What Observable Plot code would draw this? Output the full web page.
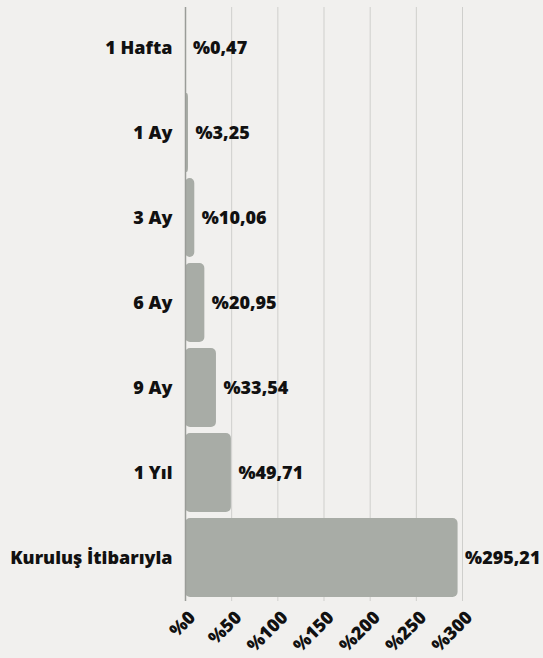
<!DOCTYPE html>
<html><head><meta charset="utf-8">
<script src="https://cdn.jsdelivr.net/npm/d3@7"></script>
<script src="https://cdn.jsdelivr.net/npm/@observablehq/plot@0.6"></script>
<style>
html,body{margin:0;padding:0;background:#f1f0ee;}
#chart{width:543px;height:658px;}
</style></head>
<body><div id="chart"></div>
<script>
const periods = ["1 Hafta","1 Ay","3 Ay","6 Ay","9 Ay","1 Yıl","Kuruluş İtibarıyla"];
const returns = [0.47,3.25,10.06,20.95,33.54,49.71,295.21];
const ticks = [0,50,100,150,200,250,300];
const data = periods.map((p,i)=>({period:p, value:returns[i]}));
const fmt = v => "%" + v.toFixed(2).replace(".", ",");
const FONT = "'Open Sans', sans-serif";
const chart = Plot.plot({
  width: 543, height: 658,
  marginLeft: 185, marginRight: 81, marginTop: 0, marginBottom: 52,
  style: {background: "#f1f0ee", fontFamily: FONT},
  x: {domain: [0,300], label: null},
  y: {domain: periods, padding: 0.07, label: null},
  marks: [
    Plot.ruleX(ticks.slice(1), {stroke: "#cfcfcc", strokeWidth: 1, insetTop: 7, insetBottom: 5}),
    Plot.barX(data, {y: "period", x: "value", fill: "#a8aca6", rx: 5}),
    Plot.ruleX([0], {stroke: "#9a9c98", strokeWidth: 1.5, insetTop: 7, insetBottom: 5}),
    Plot.text(data, {y: "period", x: "value", text: d => fmt(d.value), textAnchor: "start", dx: 7, fontWeight: 800, fontSize: 18, fill: "#111"}),
    Plot.axisY({tickSize: 0, tickPadding: 13, fontWeight: 800, fontSize: 18, fill: "#111", label: null}),
    Plot.axisX({ticks: ticks, tickFormat: d => "%" + d, tickRotate: -45, tickSize: 0, tickPadding: 2, dx: 7, dy: 6, fontWeight: 800, fontSize: 18, fill: "#111", label: null})
  ]
});
document.getElementById("chart").appendChild(chart);
</script></body></html>
